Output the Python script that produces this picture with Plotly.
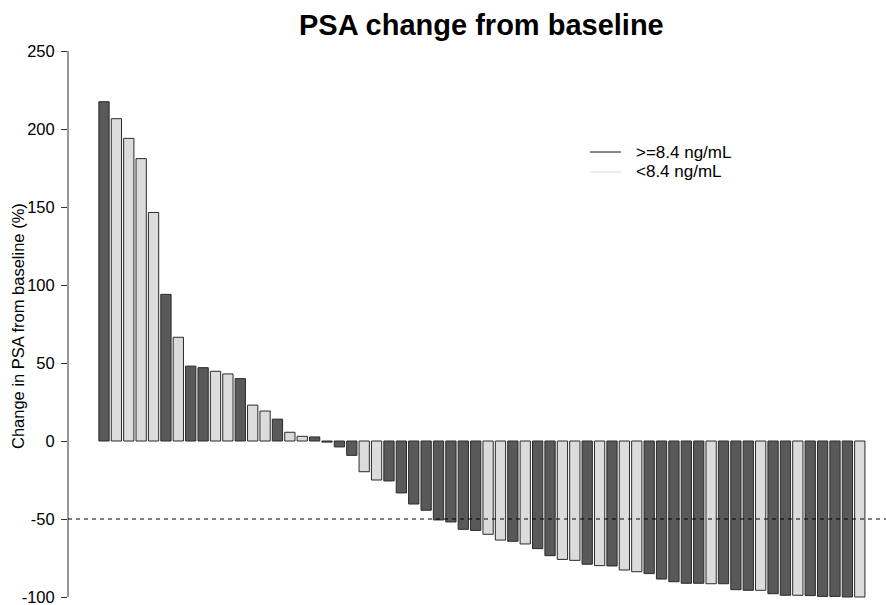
import plotly.graph_objects as go

# ---- data ----
patients = list(range(1, 63))
psa_change = [217.5, 206.6, 194.0, 181.0, 146.5, 94.0, 66.5, 48.0, 47.0, 44.7,
              43.0, 40.0, 23.0, 19.2, 14.0, 5.6, 3.0, 2.6, -0.7, -3.8,
              -9.2, -19.7, -25.0, -25.6, -33.3, -40.4, -44.4, -50.6, -51.9, -56.6,
              -57.3, -59.8, -63.5, -64.3, -66.0, -69.0, -73.5, -75.9, -76.5, -79.0,
              -79.9, -80.1, -82.7, -83.8, -85.0, -88.5, -90.2, -91.2, -91.2, -91.5,
              -91.5, -95.3, -95.7, -95.7, -97.9, -98.9, -98.9, -99.1, -99.6, -99.6,
              -100.0, -100.0]
baseline_group = ["H", "L", "L", "L", "L", "H", "L", "H", "H", "L",
                  "L", "H", "L", "L", "H", "L", "L", "H", "H", "H",
                  "H", "L", "L", "H", "H", "H", "H", "H", "H", "H",
                  "H", "L", "L", "H", "L", "H", "H", "L", "L", "H",
                  "L", "H", "L", "L", "H", "H", "H", "H", "H", "L",
                  "H", "H", "H", "L", "H", "H", "L", "H", "H", "H",
                  "H", "L"]
group_labels = {"H": ">=8.4 ng/mL", "L": "<8.4 ng/mL"}
y_ticks = [-100, -50, 0, 50, 100, 150, 200, 250]
threshold = -50

# ---- styles ----
DARK = "#595959"
LIGHT = "#DCDCDC"
FONT = "Liberation Sans, Arial, sans-serif"
W, H = 886, 605
ML, MR, MT, MB = 68, 0, 29, 7
PW, PH = W - ML - MR, H - MT - MB
PX_PER_UNIT = 1.56

def px_x(px):
    return (px - ML) / PW

def px_y(py):
    return (H - MB - py) / PH

colors = [DARK if g == "H" else LIGHT for g in baseline_group]

fig = go.Figure()
fig.add_trace(go.Bar(
    x=[p - 1 for p in patients],
    y=psa_change,
    marker=dict(color=colors, line=dict(color="#2a2a2a", width=1)),
    width=0.83,
    showlegend=False,
    hoverinfo="y",
    cliponaxis=False,
))

# y-axis line (only across tick range, R style)
fig.add_shape(type="line", xref="paper", yref="y", x0=0, x1=0,
              y0=min(y_ticks), y1=max(y_ticks), line=dict(color="#333", width=1))
# threshold line
fig.add_shape(type="line", xref="paper", yref="y", x0=0, x1=1,
              y0=threshold, y1=threshold,
              line=dict(color="black", width=1, dash="4px,4px"))

# legend (lines + text)
for i, key in enumerate(["H", "L"]):
    py = 152 + 20 * i
    col = "#111111" if key == "H" else LIGHT
    fig.add_shape(type="line", xref="paper", yref="paper",
                  x0=px_x(590), x1=px_x(621), y0=px_y(py), y1=px_y(py),
                  line=dict(color=col, width=1))
    fig.add_annotation(xref="paper", yref="paper", x=px_x(634), y=px_y(py),
                       text=group_labels[key], showarrow=False,
                       xanchor="left", yanchor="middle",
                       font=dict(family=FONT, size=17, color="black"))

# y-axis title
fig.add_annotation(xref="paper", yref="paper", x=px_x(18), y=px_y(326),
                   text="Change in PSA from baseline (%)", textangle=-90,
                   showarrow=False, xanchor="center", yanchor="middle",
                   font=dict(family=FONT, size=16.5, color="black"))

# title
fig.add_annotation(xref="paper", yref="paper", x=px_x(482), y=px_y(25),
                   text="<b>PSA change from baseline</b>", showarrow=False,
                   xanchor="center", yanchor="middle",
                   font=dict(family=FONT, size=29, color="black"))

x0 = -(104 - ML) / 12.39
x1 = x0 + PW / 12.39
y_lo = -100 - (H - MB - 597) / PX_PER_UNIT
y_hi = y_lo + PH / PX_PER_UNIT

fig.update_layout(
    width=W, height=H,
    margin=dict(l=ML, r=MR, t=MT, b=MB, pad=0),
    paper_bgcolor="white", plot_bgcolor="white",
    xaxis=dict(visible=False, range=[x0, x1]),
    yaxis=dict(range=[y_lo, y_hi], tickvals=y_ticks,
               ticktext=[str(v) for v in y_ticks],
               showgrid=False, zeroline=False, showline=False,
               ticks="outside", ticklen=6, tickcolor="#333", tickwidth=1,
               ticklabelstandoff=3, ticklabeloverflow="allow",
               tickfont=dict(family=FONT, size=16.5, color="black")),
    font=dict(family=FONT),
)

fig.write_html("out.html")
